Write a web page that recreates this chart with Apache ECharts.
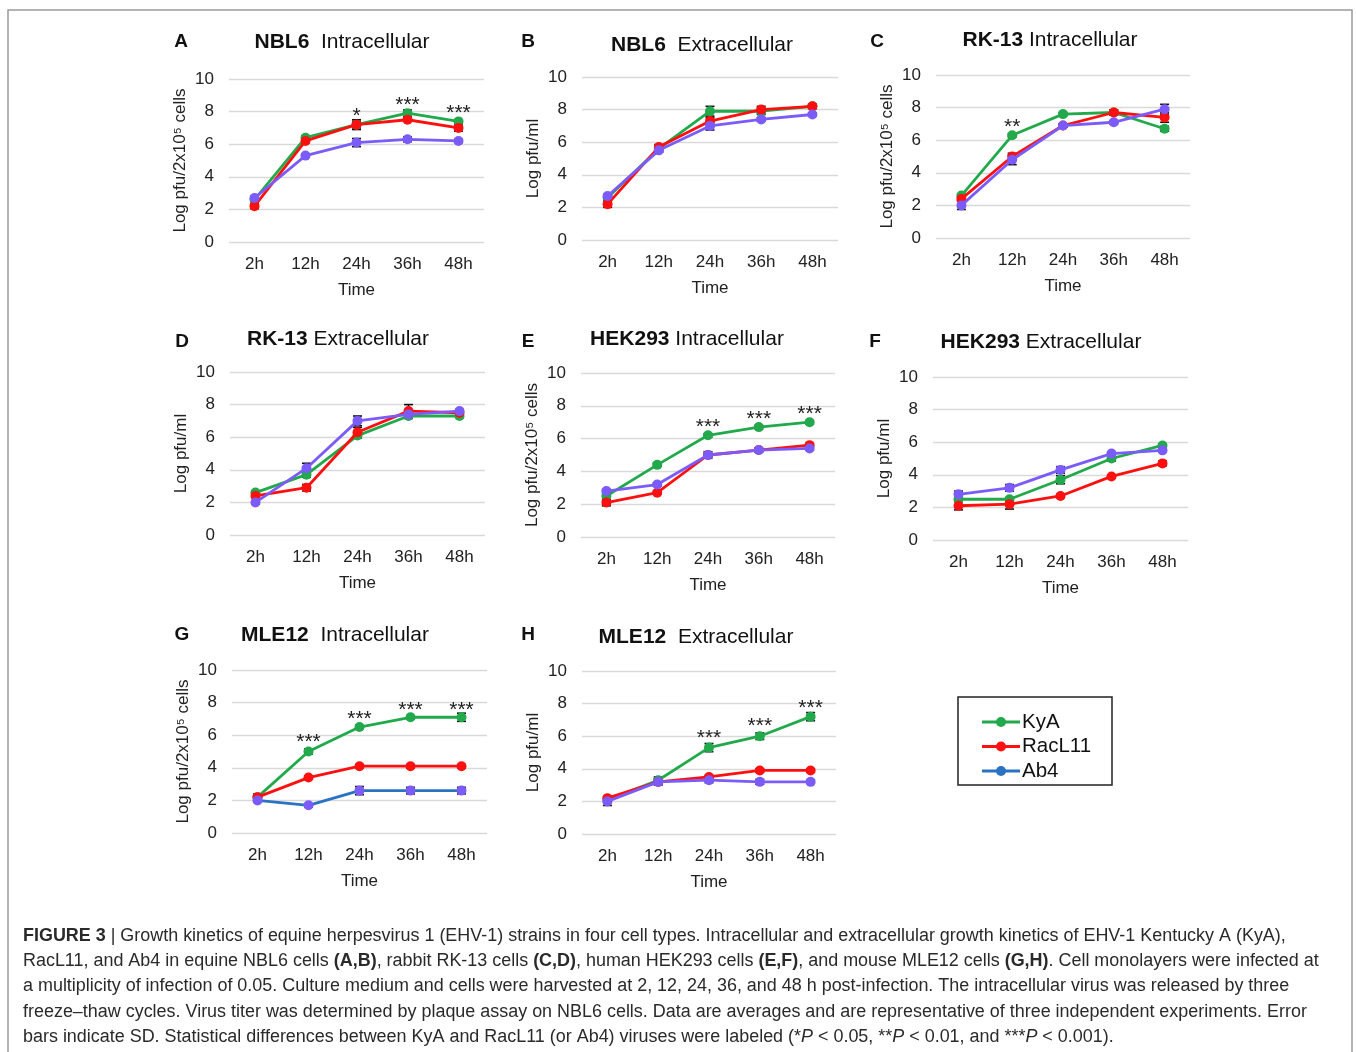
<!DOCTYPE html>
<html><head><meta charset="utf-8">
<script src="https://cdn.jsdelivr.net/npm/echarts@6/dist/echarts.min.js"></script>
<style>html,body{margin:0;padding:0;background:#fff}#c{width:1356px;height:1052px}</style>
</head><body><div id="c"></div>
<script>
// ---------- DATA ----------
const times = ['2h', '12h', '24h', '36h', '48h'];
const strains = ['KyA', 'RacL11', 'Ab4'];
const yTicks = [0, 2, 4, 6, 8, 10];

// A: NBL6 Intracellular
const A_KyA = [2.6, 6.4, 7.2, 7.9, 7.4];   const A_KyA_sd = [0.1, 0.1, 0.2, 0.2, 0.1];
const A_Rac = [2.2, 6.2, 7.2, 7.5, 7.0];   const A_Rac_sd = [0.15, 0.1, 0.3, 0.1, 0.2];
const A_Ab4 = [2.7, 5.3, 6.1, 6.3, 6.2];   const A_Ab4_sd = [0.1, 0.1, 0.25, 0.15, 0.1];
const A_stars = ['', '', '*', '***', '***']; const A_starY = [0, 0, 8.0, 8.7, 8.2];
// B: NBL6 Extracellular
const B_KyA = [2.6, 5.6, 7.9, 7.9, 8.2];   const B_KyA_sd = [0.1, 0.2, 0.3, 0.2, 0.1];
const B_Rac = [2.2, 5.7, 7.3, 8.0, 8.2];   const B_Rac_sd = [0.2, 0.15, 0.2, 0.2, 0.15];
const B_Ab4 = [2.7, 5.5, 7.0, 7.4, 7.7];   const B_Ab4_sd = [0.1, 0.1, 0.25, 0.1, 0.1];
const B_stars = ['', '', '', '', ''];      const B_starY = [0, 0, 0, 0, 0];
// C: RK-13 Intracellular
const C_KyA = [2.6, 6.3, 7.6, 7.7, 6.7];   const C_KyA_sd = [0.1, 0.1, 0.1, 0.15, 0.15];
const C_Rac = [2.4, 5.0, 6.9, 7.7, 7.4];   const C_Rac_sd = [0.1, 0.2, 0.1, 0.15, 0.3];
const C_Ab4 = [2.0, 4.8, 6.9, 7.1, 7.9];   const C_Ab4_sd = [0.25, 0.3, 0.1, 0.1, 0.3];
const C_stars = ['', '**', '', '', ''];    const C_starY = [0, 7.1, 0, 0, 0];
// D: RK-13 Extracellular
const D_KyA = [2.6, 3.7, 6.1, 7.3, 7.3];   const D_KyA_sd = [0.1, 0.15, 0.15, 0.15, 0.1];
const D_Rac = [2.4, 2.9, 6.3, 7.6, 7.5];   const D_Rac_sd = [0.1, 0.2, 0.3, 0.4, 0.1];
const D_Ab4 = [2.0, 4.1, 7.0, 7.4, 7.6];   const D_Ab4_sd = [0.1, 0.3, 0.3, 0.1, 0.1];
const D_stars = ['', '', '', '', ''];      const D_starY = [0, 0, 0, 0, 0];
// E: HEK293 Intracellular
const E_KyA = [2.5, 4.4, 6.2, 6.7, 7.0];   const E_KyA_sd = [0.3, 0.1, 0.1, 0.1, 0.1];
const E_Rac = [2.1, 2.7, 5.0, 5.3, 5.6];   const E_Rac_sd = [0.2, 0.1, 0.2, 0.1, 0.1];
const E_Ab4 = [2.8, 3.2, 5.0, 5.3, 5.4];   const E_Ab4_sd = [0.1, 0.1, 0.1, 0.1, 0.1];
const E_stars = ['', '', '***', '***', '***']; const E_starY = [0, 0, 7.0, 7.5, 7.8];
// F: HEK293 Extracellular
const F_KyA = [2.5, 2.5, 3.7, 5.0, 5.8];   const F_KyA_sd = [0.1, 0.1, 0.25, 0.15, 0.1];
const F_Rac = [2.1, 2.2, 2.7, 3.9, 4.7];   const F_Rac_sd = [0.25, 0.3, 0.1, 0.1, 0.15];
const F_Ab4 = [2.8, 3.2, 4.3, 5.3, 5.5];   const F_Ab4_sd = [0.2, 0.2, 0.2, 0.1, 0.1];
const F_stars = ['', '', '', '', ''];      const F_starY = [0, 0, 0, 0, 0];
// G: MLE12 Intracellular
const G_KyA = [2.2, 5.0, 6.5, 7.1, 7.1];   const G_KyA_sd = [0.2, 0.15, 0.1, 0.1, 0.25];
const G_Rac = [2.2, 3.4, 4.1, 4.1, 4.1];   const G_Rac_sd = [0.1, 0.1, 0.1, 0.1, 0.1];
const G_Ab4 = [2.0, 1.7, 2.6, 2.6, 2.6];   const G_Ab4_sd = [0.1, 0.1, 0.25, 0.2, 0.2];
const G_stars = ['', '***', '***', '***', '***']; const G_starY = [0, 5.9, 7.3, 7.85, 7.85];
// H: MLE12 Extracellular
const H_KyA = [2.1, 3.3, 5.3, 6.0, 7.2];   const H_KyA_sd = [0.1, 0.2, 0.25, 0.2, 0.25];
const H_Rac = [2.2, 3.2, 3.5, 3.9, 3.9];   const H_Rac_sd = [0.1, 0.1, 0.1, 0.1, 0.1];
const H_Ab4 = [2.0, 3.2, 3.3, 3.2, 3.2];   const H_Ab4_sd = [0.25, 0.2, 0.15, 0.15, 0.1];
const H_stars = ['', '', '***', '***', '***']; const H_starY = [0, 0, 6.2, 6.95, 8.05];

const captionLines = [
  '{b|FIGURE 3} | Growth kinetics of equine herpesvirus 1 (EHV-1) strains in four cell types. Intracellular and extracellular growth kinetics of EHV-1 Kentucky A (KyA),',
  'RacL11, and Ab4 in equine NBL6 cells {b|(A,B)}, rabbit RK-13 cells {b|(C,D)}, human HEK293 cells {b|(E,F)}, and mouse MLE12 cells {b|(G,H)}. Cell monolayers were infected at',
  'a multiplicity of infection of 0.05. Culture medium and cells were harvested at 2, 12, 24, 36, and 48 h post-infection. The intracellular virus was released by three',
  'freeze\u2013thaw cycles. Virus titer was determined by plaque assay on NBL6 cells. Data are averages and are representative of three independent experiments. Error',
  'bars indicate SD. Statistical differences between KyA and RacL11 (or Ab4) viruses were labeled (*{i|P} < 0.05, **{i|P} < 0.01, and ***{i|P} < 0.001).'
];

// ---------- LAYOUT ----------
const FONT = '"Liberation Sans", Arial, Helvetica, sans-serif';
const GREEN = '#21a94b', RED = '#ff1010', PURPLE = '#7b5cfb', BLUE = '#2a72c2';
const intraName = 'Log pfu/2x10\u2075 cells';
const extraName = 'Log pfu/ml';

const panels = [
  {L:'A', cell:'NBL6  ', kind:'Intracellular', g:[229,79,255,163], yname:intraName, d:[A_KyA,A_Rac,A_Ab4], sd:[A_KyA_sd,A_Rac_sd,A_Ab4_sd], st:A_stars, sy:A_starY, lp:[181,42], tp:[342,42]},
  {L:'B', cell:'NBL6  ', kind:'Extracellular', g:[582,77,256,163], yname:extraName, d:[B_KyA,B_Rac,B_Ab4], sd:[B_KyA_sd,B_Rac_sd,B_Ab4_sd], st:B_stars, sy:B_starY, lp:[528,42], tp:[702,45]},
  {L:'C', cell:'RK-13 ', kind:'Intracellular', g:[936,75,254,163], yname:intraName, d:[C_KyA,C_Rac,C_Ab4], sd:[C_KyA_sd,C_Rac_sd,C_Ab4_sd], st:C_stars, sy:C_starY, lp:[877,42], tp:[1050,40]},
  {L:'D', cell:'RK-13 ', kind:'Extracellular', g:[230,372,255,163], yname:extraName, d:[D_KyA,D_Rac,D_Ab4], sd:[D_KyA_sd,D_Rac_sd,D_Ab4_sd], st:D_stars, sy:D_starY, lp:[182,342], tp:[338,339]},
  {L:'E', cell:'HEK293 ', kind:'Intracellular', g:[581,373,254,164], yname:intraName, d:[E_KyA,E_Rac,E_Ab4], sd:[E_KyA_sd,E_Rac_sd,E_Ab4_sd], st:E_stars, sy:E_starY, lp:[528,342], tp:[687,339]},
  {L:'F', cell:'HEK293 ', kind:'Extracellular', g:[933,377,255,163], yname:extraName, d:[F_KyA,F_Rac,F_Ab4], sd:[F_KyA_sd,F_Rac_sd,F_Ab4_sd], st:F_stars, sy:F_starY, lp:[875,342], tp:[1041,342]},
  {L:'G', cell:'MLE12  ', kind:'Intracellular', g:[232,670,255,163], yname:intraName, d:[G_KyA,G_Rac,G_Ab4], sd:[G_KyA_sd,G_Rac_sd,G_Ab4_sd], st:G_stars, sy:G_starY, lp:[182,635], tp:[335,635], ab4Line:BLUE},
  {L:'H', cell:'MLE12  ', kind:'Extracellular', g:[582,671,254,163], yname:extraName, d:[H_KyA,H_Rac,H_Ab4], sd:[H_KyA_sd,H_Rac_sd,H_Ab4_sd], st:H_stars, sy:H_starY, lp:[528,635], tp:[696,637]}
];

const chart = echarts.init(document.getElementById('c'), null, {renderer:'canvas'});
const grid = [], xAxis = [], yAxis = [], series = [], graphic = [];

// outer border
graphic.push({type:'rect', shape:{x:8, y:10, width:1344, height:1060}, style:{fill:null, stroke:'#9a9a9a', lineWidth:1.5}, silent:true, z:0});

panels.forEach((p, k) => {
  grid.push({left:p.g[0], top:p.g[1], width:p.g[2], height:p.g[3], containLabel:false});
  xAxis.push({type:'category', gridIndex:k, data:times, boundaryGap:true,
    axisLine:{show:false}, axisTick:{show:false},
    axisLabel:{color:'#222', fontSize:17, fontFamily:FONT, margin:14},
    name:'Time', nameLocation:'middle', nameGap:40,
    nameTextStyle:{color:'#222', fontSize:17, fontFamily:FONT}});
  yAxis.push({type:'value', gridIndex:k, min:yTicks[0], max:yTicks[yTicks.length-1], interval:2,
    axisLine:{show:false}, axisTick:{show:false},
    splitLine:{lineStyle:{color:'#d9d9d9', width:1.3}},
    axisLabel:{color:'#222', fontSize:17, fontFamily:FONT, margin:15},
    name:p.yname, nameLocation:'middle', nameGap:40, nameRotate:90,
    nameTextStyle:{color:'#222', fontSize:17, fontFamily:FONT}});

  const colors = [GREEN, RED, PURPLE];
  const lineColors = [GREEN, RED, p.ab4Line || PURPLE];
  // error bars (beneath lines)
  p.d.forEach((vals, s) => {
    const sdv = p.sd[s];
    series.push({type:'custom', xAxisIndex:k, yAxisIndex:k, z:1, silent:true,
      data: vals.map((v, i) => [i, v - sdv[i], v + sdv[i]]),
      renderItem: (params, api) => {
        const top = api.coord([api.value(0), api.value(2)]);
        const bot = api.coord([api.value(0), api.value(1)]);
        const hw = 4.5, st = {stroke:'#111', lineWidth:1.6};
        return {type:'group', children:[
          {type:'line', shape:{x1:top[0], y1:top[1], x2:bot[0], y2:bot[1]}, style:st},
          {type:'line', shape:{x1:top[0]-hw, y1:top[1], x2:top[0]+hw, y2:top[1]}, style:st},
          {type:'line', shape:{x1:bot[0]-hw, y1:bot[1], x2:bot[0]+hw, y2:bot[1]}, style:st}
        ]};
      }});
  });
  p.d.forEach((vals, s) => {
    series.push({type:'line', name:strains[s], xAxisIndex:k, yAxisIndex:k, z:2+s,
      data: vals, symbol:'circle', symbolSize:10, showSymbol:true, animation:false,
      lineStyle:{color:lineColors[s], width:2.8},
      itemStyle:{color:colors[s], borderWidth:0}});
  });
  // significance stars
  series.push({type:'custom', xAxisIndex:k, yAxisIndex:k, z:6, silent:true,
    data: p.st.map((t, i) => [i, p.sy[i]]),
    renderItem: (params, api) => {
      const t = p.st[params.dataIndex];
      if (!t) return null;
      const c = api.coord([api.value(0), api.value(1)]);
      return {type:'text', style:{x:c[0], y:c[1]+5, text:t, fill:'#222', font:'21px ' + FONT, textAlign:'center', textVerticalAlign:'middle'}};
    }});

  graphic.push({type:'text', x:p.lp[0], y:p.lp[1], style:{text:p.L, font:'bold 19px ' + FONT, fill:'#111', textAlign:'center', textVerticalAlign:'middle'}, z:10});
  graphic.push({type:'text', x:p.tp[0], y:p.tp[1], style:{text:'{b|' + p.cell.trim() + '}{n|' + (p.cell.endsWith('  ') ? '  ' : ' ') + p.kind + '}',
    textAlign:'center', textVerticalAlign:'middle',
    rich:{b:{font:'bold 21px ' + FONT, fill:'#111'}, n:{font:'21px ' + FONT, fill:'#111'}}}, z:10});
});

// legend (manual box)
graphic.push({type:'rect', shape:{x:958, y:697, width:154, height:88}, style:{fill:'#fff', stroke:'#222', lineWidth:1.5}, z:10});
const legColors = [[GREEN, GREEN], [RED, RED], [BLUE, BLUE]];
strains.forEach((nm, i) => {
  const yy = 722 + i * 24.5;
  graphic.push({type:'line', shape:{x1:982, y1:yy, x2:1020, y2:yy}, style:{stroke:legColors[i][0], lineWidth:3}, z:11});
  graphic.push({type:'circle', shape:{cx:1001, cy:yy, r:5}, style:{fill:legColors[i][1]}, z:12});
  graphic.push({type:'text', x:1022, y:yy, style:{text:nm, font:'20.5px ' + FONT, fill:'#111', textAlign:'left', textVerticalAlign:'middle'}, z:12});
});

// caption — size fitted to the first line width
const ctx = document.createElement('canvas').getContext('2d');
ctx.font = '16px ' + FONT;
const plain0 = captionLines[0].replace(/\{b\|([^}]*)\}/g, '$1');
const w0 = ctx.measureText(plain0).width;
const capSize = Math.max(12, Math.min(20, 16 * 1264 / w0));
captionLines.forEach((ln, i) => {
  graphic.push({type:'text', x:23, y:936 + i * 25.2, style:{text:ln, textAlign:'left', textVerticalAlign:'middle',
    font: capSize.toFixed(2) + 'px ' + FONT, fill:'#2a2a2a',
    rich:{b:{font:'bold ' + capSize.toFixed(2) + 'px ' + FONT, fill:'#2a2a2a'}, i:{font:'italic ' + capSize.toFixed(2) + 'px ' + FONT, fill:'#2a2a2a'}}}, z:10});
});

chart.setOption({animation:false, backgroundColor:'#fff', grid, xAxis, yAxis, series, graphic});
</script></body></html>
